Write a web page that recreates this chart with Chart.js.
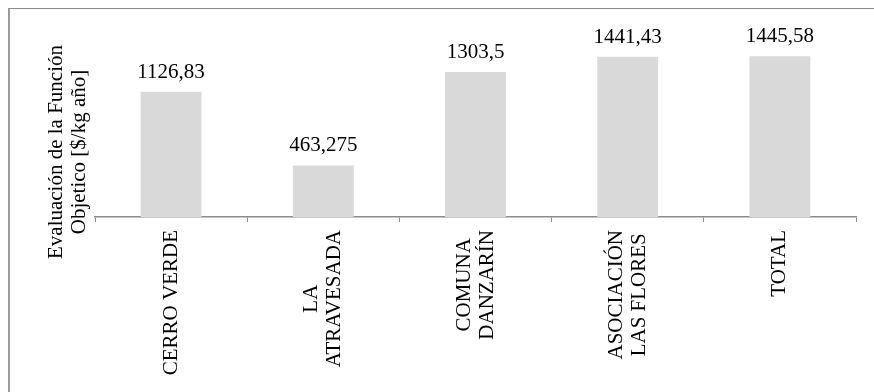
<!DOCTYPE html>
<html>
<head>
<meta charset="utf-8">
<script src="https://cdn.jsdelivr.net/npm/chart.js@4.4.1/dist/chart.umd.min.js"></script>
<style>
  body { margin: 0; background: #fff; overflow: hidden; }
  #wrap { position: relative; width: 874px; height: 392px; }
  #frame {
    position: absolute; left: 8px; top: 8px; width: 1000px; height: 1000px;
    border-left: 2px solid #9a9a9a; border-top: 1px solid #8c8c8c;
  }
  canvas { position: absolute; left: 0; top: 0; }
  #probe { position: absolute; left: -9999px; font: 21px "Liberation Serif"; }
</style>
</head>
<body>
<div id="wrap">
  <div id="frame"></div>
  <canvas id="chart" width="874" height="392"></canvas>
</div>
<div id="probe">Evaluación 1126,83</div>
<script>
const categories = [
  ["CERRO VERDE"],
  ["LA", "ATRAVESADA"],
  ["COMUNA", "DANZARÍN"],
  ["ASOCIACIÓN", "LAS FLORES"],
  ["TOTAL"],
];
const values = [1126.83, 463.275, 1303.5, 1441.43, 1445.58];
const yTitle = ["Evaluación de la Función", "Objetico [$/kg año]"];

const FONT = '21px "Liberation Serif"';

const fmt = (v) => String(v).replace(".", ",");

// values above bars, centred multi-line rotated categories, y title
const textPlugin = {
  id: "textPlugin",
  afterDraw(chart) {
    const ctx = chart.ctx;
    const xs = chart.scales.x;
    const area = chart.chartArea;
    const meta = chart.getDatasetMeta(0);
    ctx.save();
    ctx.font = FONT;
    ctx.fillStyle = "#000";

    ctx.textAlign = "center";
    ctx.textBaseline = "alphabetic";
    meta.data.forEach((bar, i) => {
      ctx.fillText(fmt(values[i]), bar.x, bar.y - 14);
    });

    const lineH = 23;
    categories.forEach((lines, i) => {
      const cx = xs.getPixelForValue(i);
      const maxW = Math.max(...lines.map((l) => ctx.measureText(l).width));
      lines.forEach((line, j) => {
        ctx.save();
        ctx.translate(cx + (j - (lines.length - 1) / 2) * lineH, xs.top + 13 + maxW / 2);
        ctx.rotate(-Math.PI / 2);
        ctx.textAlign = "center";
        ctx.textBaseline = "middle";
        ctx.fillText(line, 0, 0);
        ctx.restore();
      });
    });

    yTitle.forEach((line, j) => {
      ctx.save();
      ctx.translate(56 + j * 23, area.bottom - 65);
      ctx.rotate(-Math.PI / 2);
      ctx.textAlign = "center";
      ctx.textBaseline = "middle";
      ctx.fillText(line, 0, 0);
      ctx.restore();
    });
    ctx.restore();
  },
};

function draw() {
  new Chart(document.getElementById("chart"), {
    type: "bar",
    data: {
      labels: categories,
      datasets: [
        {
          data: values,
          backgroundColor: "#d9d9d9",
          borderWidth: 0,
          categoryPercentage: 1,
          barPercentage: 0.4,
        },
      ],
    },
    options: {
      responsive: false,
      animation: false,
      events: [],
      layout: { padding: { left: 95, right: 18, top: 39, bottom: 0 } },
      plugins: { legend: { display: false }, tooltip: { enabled: false } },
      scales: {
        x: {
          grid: {
            display: true,
            drawOnChartArea: false,
            drawTicks: true,
            tickLength: 5,
            color: "#8c8c8c",
            offset: true,
          },
          border: { display: true, color: "#8c8c8c", width: 1.5 },
          ticks: {
            color: "rgba(0,0,0,0)",
            font: { family: "Liberation Serif", size: 21 },
            minRotation: 90,
            maxRotation: 90,
            autoSkip: false,
          },
          afterFit(scale) {
            scale.height = 175;
          },
        },
        y: {
          display: false,
          min: 0,
          max: 1600,
        },
      },
    },
    plugins: [textPlugin],
  });
}

document.fonts.load(FONT).then(draw, draw);
</script>
</body>
</html>
